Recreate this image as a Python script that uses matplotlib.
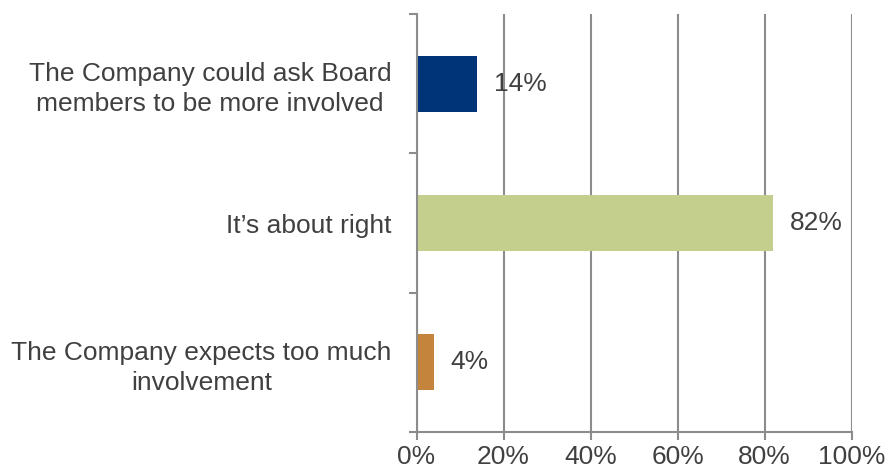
import numpy as np
import matplotlib.pyplot as plt
from matplotlib.ticker import FuncFormatter, FixedLocator

categories = ['The Company could ask Board\nmembers to be more involved',
              'It\u2019s about right',
              'The Company expects too much\ninvolvement']
values = [14, 82, 4]
colors = ['#003478', '#C4CF8E', '#C4843C']
xticks = [0, 20, 40, 60, 80, 100]

plt.rcParams['font.family'] = ['Liberation Sans', 'DejaVu Sans']
text_col = '#404040'
grid_col = '#8C8C8C'
fs = 19

fig = plt.figure(figsize=(8.9, 4.76), dpi=100)
ax = fig.add_axes([0.468, 0.0924, 0.489, 0.8782])

y = np.arange(len(categories))
ax.barh(y, values, height=0.4, color=colors, zorder=3)
ax.set_ylim(len(categories) - 0.5, -0.5)
ax.set_xlim(0, 100)

for yi, v in zip(y, values):
    ax.annotate('{}%'.format(v), (v, yi), xytext=(12, 0), textcoords='offset points',
                va='center', ha='left', fontsize=fs, color=text_col)

ax.set_xticks(xticks)
ax.xaxis.set_major_formatter(FuncFormatter(lambda x, p: '{:.0f}%'.format(x)))
ax.grid(axis='x', color=grid_col, linewidth=1.5, zorder=0)

# category labels sit between boundary ticks
ax.set_yticks(y)
ax.set_yticklabels(categories, fontsize=fs, color=text_col, ha='right',
                   multialignment='center', linespacing=1.3)
ax.tick_params(axis='y', which='major', length=0, pad=18)
ax.yaxis.set_minor_locator(FixedLocator(np.arange(-0.5, len(categories), 1.0)))
ax.tick_params(axis='y', which='minor', length=6, width=1.5, color=grid_col)
ax.tick_params(axis='x', length=6, width=1.5, color=grid_col, labelsize=fs,
               labelcolor=text_col, pad=3)

for s in ['top', 'right']:
    ax.spines[s].set_visible(False)
for s in ['left', 'bottom']:
    ax.spines[s].set_color(grid_col)
    ax.spines[s].set_linewidth(1.5)
    ax.spines[s].set_zorder(4)

fig.savefig('out.png', dpi=100, facecolor='white')
